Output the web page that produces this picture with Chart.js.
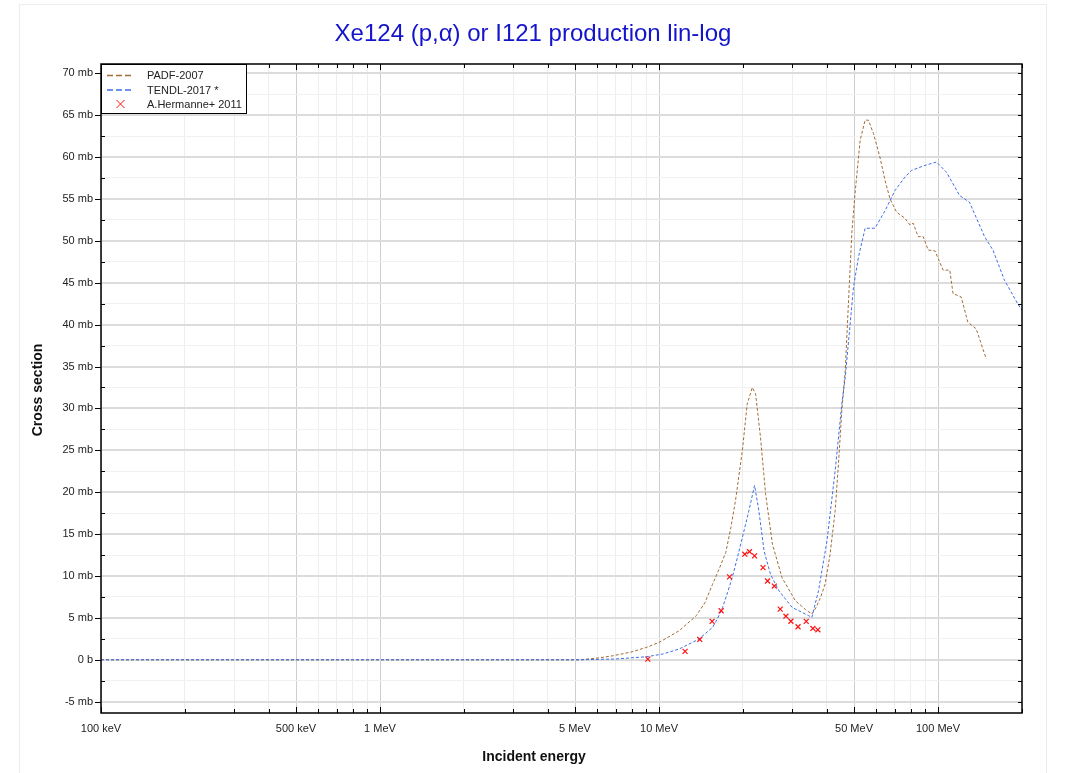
<!DOCTYPE html>
<html><head><meta charset="utf-8">
<script src="https://cdn.jsdelivr.net/npm/chart.js@4/dist/chart.umd.min.js"></script>
<style>
html,body{margin:0;padding:0;background:#fff;overflow:hidden}
#wrap{position:relative;width:1071px;height:773px}
#frame{position:absolute;left:19px;top:4px;width:1028px;height:800px;border:1px solid #ececec;box-sizing:border-box}
canvas{position:absolute;left:0;top:0}
</style></head><body>
<div id="wrap"><div id="frame"></div><canvas id="c" width="1071" height="773" style="width:1071px;height:773px"></canvas></div>
<script>
// ---- data (energy in MeV, cross section in mb) ----
const padfE  = [0.1, 1, 5.2, 6.0, 6.84, 8.0, 9.0, 10.0, 11.8, 13.6, 14.6, 15.55, 16.5, 17.35, 18.1, 18.8, 19.9, 20.7, 21.6, 22.2, 23.1, 24.1, 25.5, 27.6, 30.8, 33.5, 35.3, 36.5, 38.0, 39.4, 41.0, 42.8, 44.0, 45.2, 46.5, 47.8, 49.1, 50.4, 52.6, 54.8, 56.3, 58.7, 61.9, 64.6, 67.3, 71.1, 76.1, 79.3, 81.5, 84.9, 88.5, 92.2, 97.5, 104.3, 110.2, 113.2, 121.1, 127.9, 137.0, 148.9];
const padfXS = [0, 0, 0, 0.2, 0.48, 0.95, 1.47, 2.07, 3.46, 5.26, 6.8, 9.0, 11.0, 12.8, 15.8, 19.0, 25.0, 30.5, 32.5, 31.7, 26.6, 19.8, 13.8, 9.8, 7.05, 6.0, 5.46, 6.2, 7.5, 9.04, 12.5, 17.8, 23.5, 29.7, 34.5, 42.9, 50.9, 55.6, 62.0, 64.4, 64.4, 62.8, 60.0, 57.2, 55.0, 53.4, 52.7, 51.9, 52.1, 50.5, 50.5, 48.9, 48.8, 46.5, 46.5, 43.7, 43.3, 40.3, 39.5, 35.9];

const tendlE  = [0.1, 1, 5.2, 7.0, 9.0, 10.3, 11.8, 13.9, 15.55, 16.2, 16.9, 17.6, 18.3, 19.1, 19.9, 21.0, 22.0, 22.8, 23.8, 25.1, 26.9, 30.0, 34.4, 35.3, 37.3, 40.0, 42.8, 45.2, 46.5, 49.8, 51.9, 54.8, 59.4, 64.6, 70.1, 76.1, 80.4, 89.7, 98.7, 107.2, 119.5, 129.7, 146.8, 157.3, 173, 193, 200];
const tendlXS = [0, 0, 0, 0.1, 0.36, 0.68, 1.28, 2.47, 3.86, 4.9, 6.25, 8.0, 9.83, 12.2, 14.6, 17.8, 20.8, 17.8, 13.0, 10.2, 8.24, 6.25, 5.26, 5.06, 8.24, 14.2, 22.6, 30.5, 33.7, 44.5, 48.1, 51.5, 51.5, 53.6, 56.0, 57.6, 58.4, 59.0, 59.4, 58.2, 55.4, 54.6, 50.5, 48.9, 45.3, 42.5, 41.7];

const expE  = [9.12, 12.4, 14.0, 15.5, 16.7, 17.9, 20.3, 21.1, 22.0, 23.6, 24.5, 25.9, 27.2, 28.5, 29.7, 31.5, 33.7, 35.6, 37.1];
const expXS = [0.08, 1.0, 2.43, 4.58, 5.85, 9.9, 12.6, 12.9, 12.4, 11.0, 9.4, 8.8, 6.05, 5.2, 4.6, 3.94, 4.58, 3.74, 3.58];

const seriesNames = ['PADF-2007', 'TENDL-2017 *', 'A.Hermanne+ 2011'];
const titleText = 'Xe124 (p,\u03b1) or I121 production lin-log';
const xTitle = 'Incident energy';
const yTitle = 'Cross section';

const xLabelValues = [0.1, 0.5, 1, 5, 10, 50, 100];
const xLabelTexts  = ['100 keV', '500 keV', '1 MeV', '5 MeV', '10 MeV', '50 MeV', '100 MeV'];
const yLabelValues = [-5, 0, 5, 10, 15, 20, 25, 30, 35, 40, 45, 50, 55, 60, 65, 70];
const yLabelTexts  = ['-5 mb', '0 b', '5 mb', '10 mb', '15 mb', '20 mb', '25 mb', '30 mb', '35 mb', '40 mb', '45 mb', '50 mb', '55 mb', '60 mb', '65 mb', '70 mb'];

const BROWN = '#a26b36', BLUE = '#3e6ee8', RED = '#ff1010';

// tick positions (all 1..9 multiples per decade up to 200 MeV; minor y every 2.5 mb)
const xTickValues = [];
[0.1, 1, 10, 100].forEach(d => { for (let m = 1; m <= 9; m++) { const v = Math.round(m * d * 1000) / 1000; if (v <= 200) xTickValues.push(v); } });
const yTickValues = [];
for (let v = -5; v <= 70; v += 2.5) yTickValues.push(v);

function near(a, b) { return Math.abs(a - b) < 1e-6 * Math.max(1, Math.abs(b)); }
function xLabel(v) { const i = xLabelValues.findIndex(t => near(v, t)); return i >= 0 ? xLabelTexts[i] : ''; }
function yLabel(v) { const i = yLabelValues.findIndex(t => near(v, t)); return i >= 0 ? yLabelTexts[i] : ''; }
function pts(xs, ys) { return xs.map((x, i) => ({ x: x, y: ys[i] })); }

const FONT = 'Arial, "Liberation Sans", sans-serif';

const decor = {
  id: 'decor',
  afterDatasetsDraw(chart) {
    const ctx = chart.ctx, a = chart.chartArea, xs = chart.scales.x, ys = chart.scales.y;
    ctx.save();
    // frame
    ctx.strokeStyle = '#000'; ctx.lineWidth = 1.5;
    ctx.strokeRect(a.left, a.top, a.right - a.left, a.bottom - a.top);
    ctx.lineWidth = 1;
    // y ticks
    yTickValues.forEach(v => {
      const y = Math.round(ys.getPixelForValue(v)) + 0.5;
      const major = yLabel(v) !== '';
      ctx.beginPath();
      if (major) { ctx.moveTo(a.left - 6, y); ctx.lineTo(a.left, y); }
      else { ctx.moveTo(a.left, y); ctx.lineTo(a.left + 4, y); }
      ctx.moveTo(a.right, y); ctx.lineTo(a.right - 4, y);
      ctx.stroke();
    });
    // x ticks (bottom and top, inside)
    xTickValues.forEach(v => {
      const x = Math.round(xs.getPixelForValue(v)) + 0.5;
      const len = xLabel(v) !== '' ? 6 : 4;
      ctx.beginPath();
      ctx.moveTo(x, a.bottom); ctx.lineTo(x, a.bottom - len);
      ctx.moveTo(x, a.top); ctx.lineTo(x, a.top + len);
      ctx.stroke();
    });
    // legend
    const lx = a.left, ly = a.top, lw = 145, lh = 49;
    ctx.fillStyle = '#fff'; ctx.fillRect(lx, ly, lw, lh);
    ctx.strokeStyle = '#000'; ctx.lineWidth = 1;
    ctx.strokeRect(lx + 0.5, ly + 0.5, lw, lh);
    const rows = [ly + 11.5, ly + 26, ly + 40];
    ctx.lineWidth = 1.3; ctx.setLineDash([6, 3]);
    ctx.strokeStyle = BROWN; ctx.beginPath(); ctx.moveTo(lx + 6, rows[0]); ctx.lineTo(lx + 33, rows[0]); ctx.stroke();
    ctx.strokeStyle = BLUE; ctx.beginPath(); ctx.moveTo(lx + 6, rows[1]); ctx.lineTo(lx + 33, rows[1]); ctx.stroke();
    ctx.setLineDash([]);
    ctx.strokeStyle = RED; ctx.lineWidth = 1; ctx.beginPath();
    const cx = lx + 19.5, cy = rows[2];
    ctx.moveTo(cx - 4, cy - 4); ctx.lineTo(cx + 4, cy + 4); ctx.moveTo(cx + 4, cy - 4); ctx.lineTo(cx - 4, cy + 4); ctx.stroke();
    ctx.fillStyle = '#222'; ctx.font = '11px ' + FONT; ctx.textAlign = 'left'; ctx.textBaseline = 'middle';
    seriesNames.forEach((n, i) => ctx.fillText(n, lx + 46, rows[i] + 0.5));
    // titles
    ctx.fillStyle = '#1414cc'; ctx.font = '24px ' + FONT; ctx.textAlign = 'center'; ctx.textBaseline = 'middle';
    ctx.fillText(titleText, 533, 34);
    ctx.fillStyle = '#111'; ctx.font = 'bold 14px ' + FONT;
    ctx.fillText(xTitle, 534, 757);
    ctx.translate(38, 390); ctx.rotate(-Math.PI / 2);
    ctx.fillText(yTitle, 0, 0);
    ctx.restore();
  }
};

new Chart(document.getElementById('c'), {
  type: 'scatter',
  data: {
    datasets: [
      { label: seriesNames[2], data: pts(expE, expXS), showLine: false, pointStyle: 'crossRot', pointRadius: 3.5, pointBorderWidth: 1.2, borderColor: RED, backgroundColor: RED, order: 0 },
      { label: seriesNames[1], data: pts(tendlE, tendlXS), showLine: true, pointRadius: 0, borderColor: BLUE, borderWidth: 1, borderDash: [3, 2], tension: 0, order: 1 },
      { label: seriesNames[0], data: pts(padfE, padfXS), showLine: true, pointRadius: 0, borderColor: BROWN, borderWidth: 1, borderDash: [3, 2], tension: 0, order: 2 }
    ]
  },
  options: {
    responsive: false, animation: false, events: [],
    layout: { padding: { left: 0, right: 49, top: 64, bottom: 0 } },
    plugins: { legend: { display: false }, tooltip: { enabled: false }, title: { display: false } },
    scales: {
      x: {
        type: 'logarithmic', min: 0.1, max: 200,
        afterBuildTicks: s => { s.ticks = xTickValues.map(v => ({ value: v })); },
        afterFit: s => { s.height = 60; },
        ticks: { autoSkip: false, maxRotation: 0, minRotation: 0, padding: 9, color: '#222', font: { family: FONT, size: 11 }, callback: v => xLabel(v) },
        grid: { drawTicks: false, color: c => (c.tick && xLabel(c.tick.value) !== '') ? '#cdcdcd' : '#eeeeee', lineWidth: 1 },
        border: { display: false }
      },
      y: {
        type: 'linear', min: -6.35, max: 71.1,
        afterBuildTicks: s => { s.ticks = yTickValues.map(v => ({ value: v })); },
        afterFit: s => { s.width = 101; },
        ticks: { autoSkip: false, padding: 8, color: '#222', font: { family: FONT, size: 11 }, callback: v => yLabel(v) },
        grid: { drawTicks: false, color: c => (c.tick && yLabel(c.tick.value) !== '') ? '#dcdcdc' : '#f1f1f1', lineWidth: c => (c.tick && yLabel(c.tick.value) !== '') ? 2 : 1 },
        border: { display: false }
      }
    }
  },
  plugins: [decor]
});
</script>
</body></html>
